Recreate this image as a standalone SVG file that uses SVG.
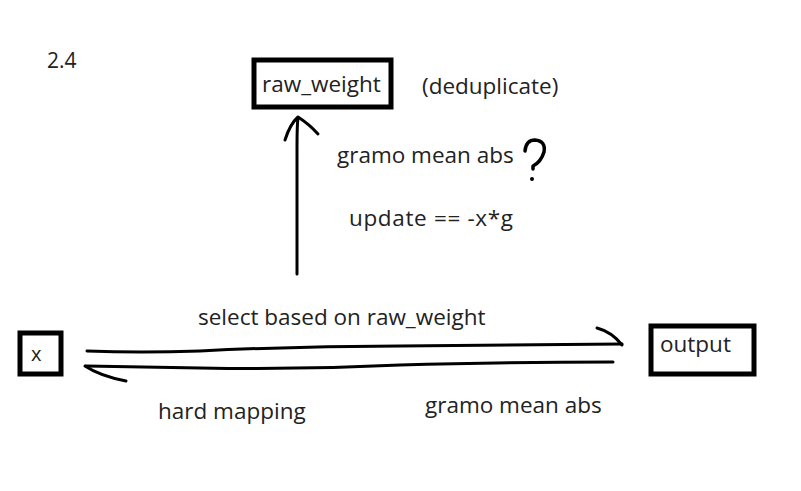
<svg xmlns="http://www.w3.org/2000/svg" width="801" height="491" viewBox="0 0 801 491">
<style>
text{font-family:"Open Sans","Noto Sans","Liberation Sans",sans-serif;font-size:22.5px;fill:#222}
.box{fill:#fff;stroke:#000;stroke-width:5}
.ink{fill:none;stroke:#000;stroke-width:3;stroke-linecap:round;stroke-linejoin:round}
</style>
<rect width="801" height="491" fill="#fff"/>
<text x="47" y="68" style="font-size:21px">2.4</text>
<g id="raw_weight">
<rect class="box" x="254" y="60" width="137" height="47"/>
<text x="262" y="92">raw_weight</text>
</g>
<text x="422" y="94">(deduplicate)</text>
<g id="x">
<rect class="box" x="20" y="333" width="41" height="41"/>
<text x="31" y="361" style="font-size:20px">x</text>
</g>
<g id="output">
<rect class="box" x="651" y="326" width="103" height="48"/>
<text x="660" y="352">output</text>
</g>
<g id="connectors">
<path class="ink" d="M297 274 L297 150 Q297 125 298 118"/>
<path class="ink" d="M285 140 Q290 124 298 117 Q309 124 318 134"/>
<path class="ink" d="M87 351 Q140 353 200 351 Q300 346 400 346 Q520 345 622 344"/>
<path class="ink" d="M597 328 Q612 332 622 345"/>
<path class="ink" d="M613 362 Q500 362 400 365 Q300 370 200 368 Q140 367 86 366"/>
<path class="ink" d="M85 366 Q100 376 126 381"/>
</g>
<text x="198" y="325">select based on raw_weight</text>
<text x="158" y="419">hard mapping</text>
<text x="425" y="413">gramo mean abs</text>
<text x="337" y="163">gramo mean abs</text>
<text x="349" y="226" textLength="164" lengthAdjust="spacing">update == -x*g</text>
<path class="ink" d="M525 151 Q526 140 535 140 Q546 141 544 152 Q541 162 533 166 L533 169" style="stroke-width:3.5"/>
<circle cx="532" cy="179" r="2" fill="#000"/>
</svg>
